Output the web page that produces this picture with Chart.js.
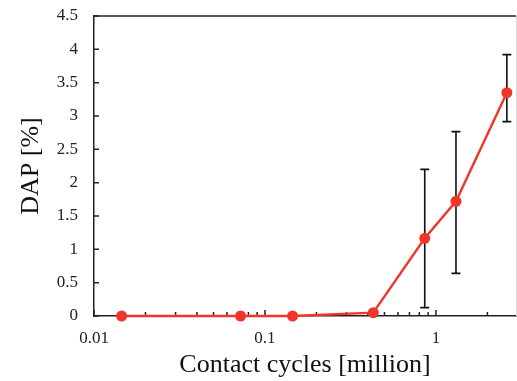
<!DOCTYPE html>
<html>
<head>
<meta charset="utf-8">
<script src="https://cdn.jsdelivr.net/npm/chart.js@4/dist/chart.umd.min.js"></script>
<style>
html,body{margin:0;padding:0;background:#fff;}
canvas{display:block;}
</style>
</head>
<body>
<canvas id="c" width="517" height="381"></canvas>
<script>
// Data
const cycles   = [0.0145, 0.072, 0.145, 0.43, 0.86, 1.31, 2.6];   // million
const dap      = [0, 0, 0, 0.05, 1.165, 1.72, 3.35];             // %
const errHigh  = [null, null, null, null, 2.2, 2.765, 3.92];
const errLow   = [null, null, null, null, 0.125, 0.64, 2.915];
const xMajorTicks = [0.01, 0.1, 1];
const xMinorTicks = [0.02,0.03,0.04,0.05,0.06,0.07,0.08,0.09,0.2,0.3,0.4,0.5,0.6,0.7,0.8,0.9,2];
const yTicks = [0, 0.5, 1, 1.5, 2, 2.5, 3, 3.5, 4, 4.5];

const RED = '#f0362a';
const serif = "'Liberation Serif', 'Times New Roman', serif";

const decor = {
  id: 'decor',
  beforeDatasetsDraw(chart) {
    const {ctx, chartArea: a, scales: {x, y}} = chart;
    ctx.save();
    ctx.strokeStyle = '#222';
    ctx.lineWidth = 1.5;
    ctx.beginPath();
    ctx.moveTo(a.left, a.top); ctx.lineTo(a.right, a.top);
    ctx.stroke();
    ctx.strokeStyle = '#d8d8d8';
    ctx.lineWidth = 1;
    ctx.beginPath();
    ctx.moveTo(a.right + 0.5, a.top); ctx.lineTo(a.right + 0.5, a.bottom);
    ctx.stroke();
    ctx.strokeStyle = '#222';
    ctx.lineWidth = 1.5;
    ctx.beginPath();
    yTicks.forEach(v => {
      const py = y.getPixelForValue(v);
      ctx.moveTo(a.left, py); ctx.lineTo(a.left + 5, py);
    });
    xMajorTicks.forEach(v => {
      const px = x.getPixelForValue(v);
      ctx.moveTo(px, a.bottom); ctx.lineTo(px, a.bottom - 6);
    });
    xMinorTicks.forEach(v => {
      const px = x.getPixelForValue(v);
      ctx.moveTo(px, a.bottom); ctx.lineTo(px, a.bottom - 4);
    });
    ctx.stroke();
    ctx.strokeStyle = '#111';
    ctx.lineWidth = 1.6;
    ctx.beginPath();
    cycles.forEach((c, i) => {
      if (errHigh[i] == null) return;
      const px = x.getPixelForValue(c);
      const pt = y.getPixelForValue(errHigh[i]);
      const pb = y.getPixelForValue(errLow[i]);
      ctx.moveTo(px, pt); ctx.lineTo(px, pb);
      ctx.moveTo(px - 4.5, pt); ctx.lineTo(px + 4.5, pt);
      ctx.moveTo(px - 4.5, pb); ctx.lineTo(px + 4.5, pb);
    });
    ctx.stroke();
    ctx.restore();
  }
};

new Chart(document.getElementById('c'), {
  type: 'line',
  data: {
    datasets: [{
      data: cycles.map((c, i) => ({x: c, y: dap[i]})),
      borderColor: RED,
      backgroundColor: RED,
      borderWidth: 2.4,
      pointRadius: 5.5,
      pointHoverRadius: 5.5,
      pointBorderWidth: 0,
      tension: 0,
      clip: false
    }]
  },
  options: {
    responsive: false,
    animation: false,
    events: [],
    layout: { autoPadding: false, padding: { top: 16, right: 1, left: 0, bottom: 0 } },
    plugins: { legend: { display: false }, tooltip: { enabled: false } },
    scales: {
      x: {
        type: 'logarithmic',
        min: 0.01,
        max: 2.94,
        afterFit(s) { s.height = 65; s.paddingLeft = 0; s.paddingRight = 0; },
        afterBuildTicks(s) { s.ticks = xMajorTicks.map(v => ({value: v})); },
        grid: { display: false },
        border: { display: true, color: '#222', width: 1.5 },
        ticks: {
          autoSkip: false,
          maxRotation: 0,
          padding: 4,
          color: '#222',
          font: { family: serif, size: 17 },
          callback: (v) => String(v)
        },
        title: {
          display: true,
          text: 'Contact cycles [million]',
          color: '#111',
          font: { family: serif, size: 26 },
          padding: { top: 2, bottom: 0 }
        }
      },
      y: {
        min: 0,
        max: 4.5,
        afterFit(s) { s.width = 94; s.paddingTop = 0; s.paddingBottom = 0; },
        afterBuildTicks(s) { s.ticks = yTicks.map(v => ({value: v})); },
        grid: { display: false },
        border: { display: true, color: '#222', width: 1.5 },
        ticks: {
          padding: 8,
          color: '#222',
          font: { family: serif, size: 17 },
          callback: (v) => String(v)
        },
        title: {
          display: true,
          text: 'DAP [%]',
          color: '#111',
          font: { family: serif, size: 26 },
          padding: { top: 16, bottom: 16 }
        }
      }
    }
  },
  plugins: [decor]
});
</script>
</body>
</html>
